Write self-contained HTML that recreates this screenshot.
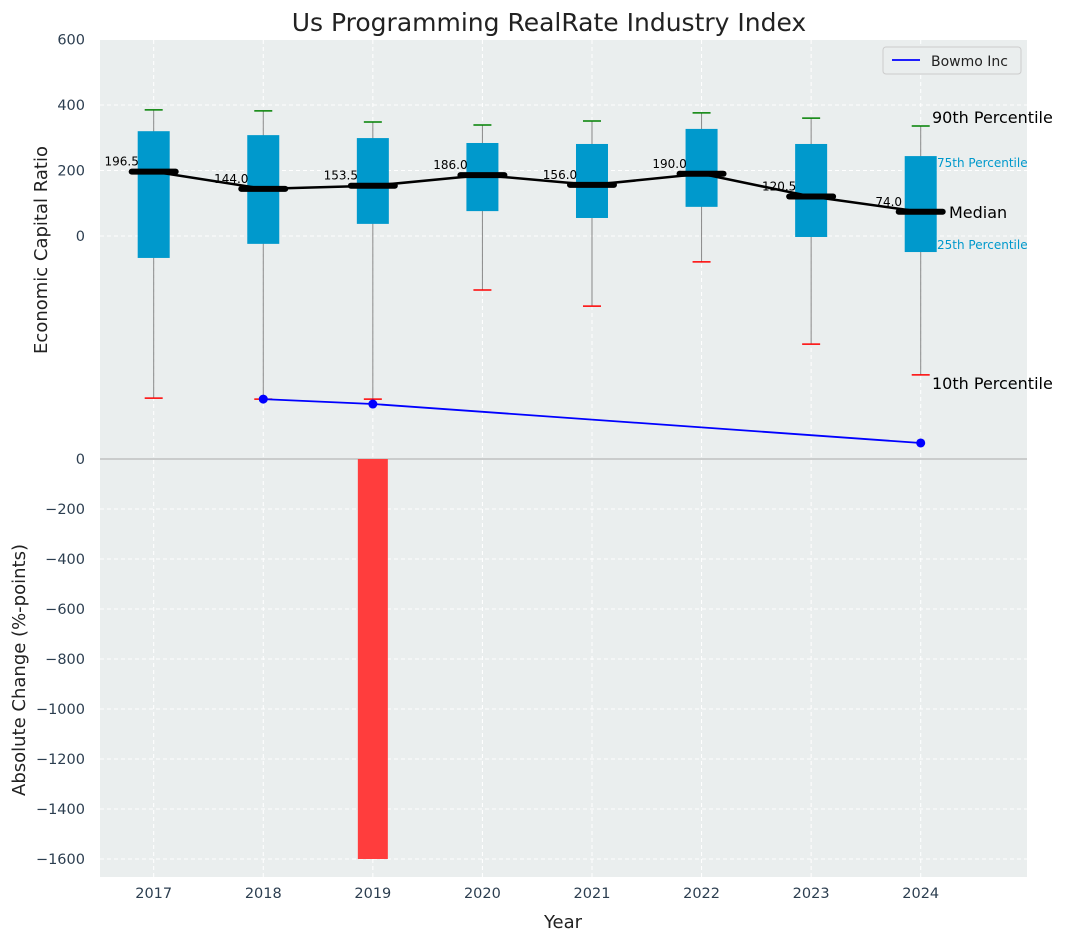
<!DOCTYPE html>
<html><head><meta charset="utf-8"><style>
html,body{margin:0;padding:0;background:#fff;width:1067px;height:942px;overflow:hidden}
svg{display:block}
svg text{font-family:"DejaVu Sans","Liberation Sans",sans-serif}
</style></head><body>
<div style="position:relative;width:1067px;height:942px">
<svg id="c" width="1067" height="942" style="position:absolute;left:0;top:0" xmlns="http://www.w3.org/2000/svg"></svg>
<svg width="1067" height="942" style="position:absolute;left:0;top:0;pointer-events:none" xmlns="http://www.w3.org/2000/svg">
<text x="549" y="31" text-anchor="middle" font-size="25" fill="#222">Us Programming RealRate Industry Index</text>
<text x="563" y="928" text-anchor="middle" font-size="18" fill="#222">Year</text>
<text transform="translate(47,250) rotate(-90)" text-anchor="middle" font-size="18" fill="#222">Economic Capital Ratio</text>
<text transform="translate(25,670) rotate(-90)" text-anchor="middle" font-size="18" fill="#222">Absolute Change (%-points)</text>
<text x="932" y="123" font-size="16" fill="#000">90th Percentile</text>
<text x="937" y="167" font-size="12" fill="#0099cc">75th Percentile</text>
<text x="949" y="218" font-size="16" fill="#000">Median</text>
<text x="937" y="249" font-size="12" fill="#0099cc">25th Percentile</text>
<text x="932" y="389" font-size="16" fill="#000">10th Percentile</text>
<g>
<rect x="883" y="47" width="138" height="27" rx="3" fill="#eaeeee" stroke="#ccc"/>
<line x1="892" x2="920" y1="60" y2="60" stroke="blue" stroke-width="1.8"/>
<text x="931" y="66" font-size="14" fill="#222">Bowmo Inc</text>
</g>
</svg>
</div>
<script>
const years=[2017,2018,2019,2020,2021,2022,2023,2024];
const p90=[385,382,348,339,351,376,360,336];
const q3=[320,308,299,284,281,327,281,244];
const medians=[196.5,144.0,153.5,186.0,156.0,190.0,120.5,74.0];
const q1=[-67,-24,37,76,55,89,-3,-49];
const p10=[-495,-498,-498,-165,-214,-79,-330,-424];
const companyYears=[2018,2019,2024];
const companyValues=[-498,-513,-632];
const changeYears=[2019];
const changeValues=[-1600];
const topTicks=[0,200,400,600];
const bottomTicks=[0,-200,-400,-600,-800,-1000,-1200,-1400,-1600];

const NS="http://www.w3.org/2000/svg",svg=document.getElementById('c');
function el(t,a,p){const e=document.createElementNS(NS,t);for(const k in a)e.setAttribute(k,a[k]);(p||svg).appendChild(e);return e;}
const L=100,R=1027,T1=40,B2=877;
const x=v=>L+(v-2016.51)/(2024.97-2016.51)*(R-L);
const y1=v=>236-v*65.5/200;
const y2=v=>459-v*50/200;

const bg=el('rect',{x:L,y:T1,width:R-L,height:B2-T1,fill:'#eaeeee'});


years.forEach(v=>{const g=el('line',{x1:x(v),x2:x(v),y1:T1,y2:B2,stroke:'#fff','stroke-dasharray':'4,3','stroke-width':1});

});
topTicks.forEach(v=>{const g=el('line',{x1:L,x2:R,y1:y1(v),y2:y1(v),stroke:'#fff','stroke-dasharray':'4,3'});


const t=el('text',{x:L-15,y:y1(v)+5,'text-anchor':'end','font-size':14.5,fill:'#2c3e50'});t.textContent=v;

});
bottomTicks.forEach(v=>{const g=el('line',{x1:L,x2:R,y1:y2(v),y2:y2(v),stroke:'#fff','stroke-dasharray':'4,3'});


const t=el('text',{x:L-15,y:y2(v)+5,'text-anchor':'end','font-size':14.5,fill:'#2c3e50'});t.textContent=v.toString().replace('-','−');

});
const zl=el('line',{x1:L,x2:R,y1:459,y2:459,stroke:'#aaa','stroke-width':1});



const hw=16;
years.forEach((yr,i)=>{const cx=x(yr);
const w=el('line',{x1:cx,x2:cx,y1:y1(p90[i]),y2:y1(p10[i]),stroke:'#888','stroke-width':1});


const b=el('rect',{x:cx-hw,y:y1(q3[i]),width:2*hw,height:y1(q1[i])-y1(q3[i]),fill:'#0099cc'});


const c1=el('line',{x1:cx-9,x2:cx+9,y1:y1(p90[i]),y2:y1(p90[i]),stroke:'green','stroke-width':1.5});


const c2=el('line',{x1:cx-9,x2:cx+9,y1:y1(p10[i]),y2:y1(p10[i]),stroke:'red','stroke-width':1.5});


});
const ml=el('polyline',{points:years.map((yr,i)=>x(yr)+','+y1(medians[i])).join(' '),fill:'none',stroke:'#000','stroke-width':2.5});


years.forEach((yr,i)=>{const cx=x(yr),cy=y1(medians[i]);
const m=el('line',{x1:cx-22,x2:cx+22,y1:cy,y2:cy,stroke:'#000','stroke-width':6,'stroke-linecap':'round'});


const t=el('text',{x:cx-32,y:cy-6,'text-anchor':'middle','font-size':12,fill:'#000'});t.textContent=medians[i].toFixed(1);

});
const cl=el('polyline',{points:companyYears.map((yr,i)=>x(yr)+','+y1(companyValues[i])).join(' '),fill:'none',stroke:'blue','stroke-width':1.8});


companyYears.forEach((yr,i)=>{const p=el('circle',{cx:x(yr),cy:y1(companyValues[i]),r:4.5,fill:'blue'});

});
changeYears.forEach((yr,i)=>{const v=changeValues[i];const r=el('rect',{x:x(yr)-15,y:Math.min(y2(0),y2(v)),width:30,height:Math.abs(y2(v)-y2(0)),fill:v<0?'#ff3d3d':'#2ca02c'});

});
years.forEach(yr=>{const t=el('text',{x:x(yr),y:898,'text-anchor':'middle','font-size':14.5,fill:'#2c3e50'});t.textContent=yr;

});
</script>
</body></html>
